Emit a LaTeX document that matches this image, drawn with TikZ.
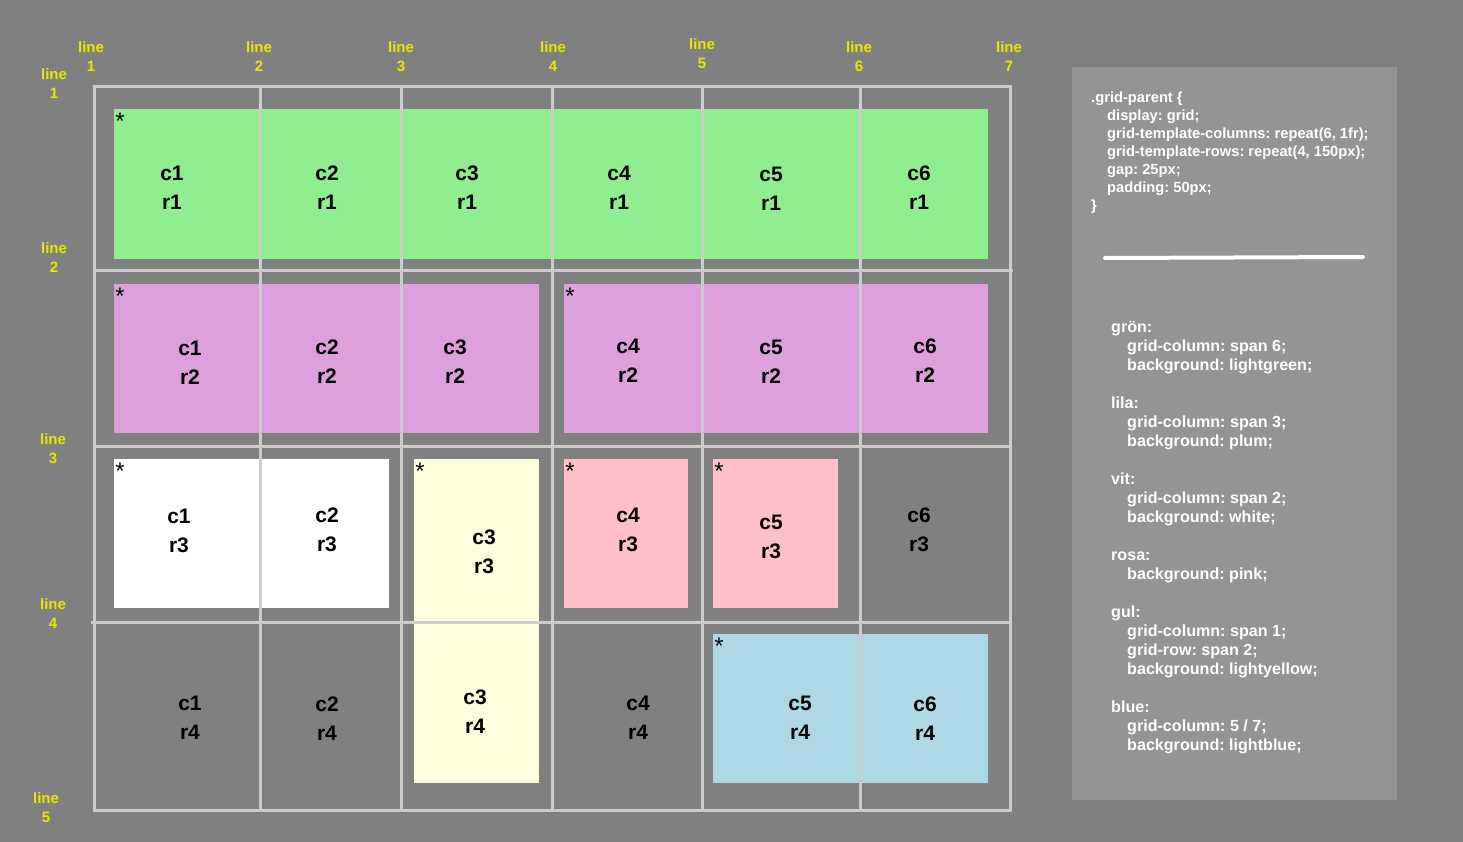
\documentclass[tikz,border=0pt]{standalone}
\usepackage{fontspec}
\setmainfont{Liberation Sans}
\usepackage{tikz}
\usetikzlibrary{positioning}
\frenchspacing

\definecolor{bggray}{HTML}{808080}
\definecolor{panelgray}{HTML}{949494}
\definecolor{gridline}{HTML}{CCCCCC}
\definecolor{labelyellow}{HTML}{E8E800}
\definecolor{cssgreen}{HTML}{90EE90}
\definecolor{cssplum}{HTML}{DDA0DD}
\definecolor{cssyellow}{HTML}{FFFFE0}
\definecolor{csspink}{HTML}{FFC0CB}
\definecolor{cssblue}{HTML}{ADD8E6}

\begin{document}
\begin{tikzpicture}[x=1pt,y=-1pt]
	\tikzstyle{cell}=[font=\bfseries\fontsize{21}{29}\selectfont,align=center,inner sep=0pt]
	\tikzstyle{star}=[font=\fontsize{24}{24}\selectfont,anchor=north,inner sep=0pt]
	\tikzstyle{linelabel}=[font=\bfseries\fontsize{15}{19}\selectfont,align=center,text=labelyellow,inner sep=0pt]
	\tikzstyle{gridrule}=[draw=gridline,line width=3pt]
	\tikzstyle{code}=[text=white,align=left,anchor=north west,inner sep=0pt]
	\fill[bggray] (0,0) rectangle (1463,842);
	\useasboundingbox (0,0) rectangle (1463,842);
	\fill[panelgray] (1072,67) rectangle (1397,800);
	% grid items
	\fill[cssgreen] (114,109) rectangle (988,259);
	\fill[cssplum] (114,284) rectangle (539,433);
	\fill[cssplum] (564,284) rectangle (988,433);
	\fill[white] (114,459) rectangle (389,608);
	\fill[cssyellow] (414,459) rectangle (539,783);
	\fill[csspink] (564,459) rectangle (688,608);
	\fill[csspink] (713,459) rectangle (838,608);
	\fill[cssblue] (713,634) rectangle (988,783);
	% grid lines
	\draw[gridrule] (94,87) rectangle (1010,810);
	\foreach \x in {260,401,552,702,860}
		\draw[gridrule] (\x,87) -- (\x,810);
	\draw[gridrule] (94,270) -- (1013,270);
	\draw[gridrule] (94,446) -- (1012,446);
	\draw[gridrule] (91,622) -- (1010,622);
	\foreach \x/\y/\n in {91/56.5/1,259/56.5/2,401/56.5/3,553/56.5/4,702/53.5/5,859/56.5/6,1009/56.5/7}
		\node[linelabel] (col\n) at (\x,\y) {line\\\n};
	\foreach \x/\y/\n in {54/83.5/1,54/257.5/2,53/448.5/3,53/613.5/4,46/807.5/5}
		\node[linelabel] (row\n) at (\x,\y) {line\\\n};
	\foreach \x/\y in {120/113,120/288,570/288,120/463,420/463,570/463,719/463,719/638}
		\node[star] at (\x,\y) {*};
	\node[cell] (c1r1) at (172,187.5) {c1\\r1};
	\node[cell] (c2r1) at (327,187.5) {c2\\r1};
	\node[cell] (c3r1) at (467,187.5) {c3\\r1};
	\node[cell] (c4r1) at (619,187.5) {c4\\r1};
	\node[cell] (c5r1) at (771,188.5) {c5\\r1};
	\node[cell] (c6r1) at (919,187.5) {c6\\r1};
	\node[cell] (c1r2) at (190,362.5) {c1\\r2};
	\node[cell] (c2r2) at (327,361.5) {c2\\r2};
	\node[cell] (c3r2) at (455,361.5) {c3\\r2};
	\node[cell] (c4r2) at (628,360.5) {c4\\r2};
	\node[cell] (c5r2) at (771,361.5) {c5\\r2};
	\node[cell] (c6r2) at (925,360.5) {c6\\r2};
	\node[cell] (c1r3) at (179,530.5) {c1\\r3};
	\node[cell] (c2r3) at (327,529.5) {c2\\r3};
	\node[cell] (c3r3) at (484,551.5) {c3\\r3};
	\node[cell] (c4r3) at (628,529.5) {c4\\r3};
	\node[cell] (c5r3) at (771,536.5) {c5\\r3};
	\node[cell] (c6r3) at (919,529.5) {c6\\r3};
	\node[cell] (c1r4) at (190,717.5) {c1\\r4};
	\node[cell] (c2r4) at (327,718.5) {c2\\r4};
	\node[cell] (c3r4) at (475,711.5) {c3\\r4};
	\node[cell] (c4r4) at (638,717.5) {c4\\r4};
	\node[cell] (c5r4) at (800,717.5) {c5\\r4};
	\node[cell] (c6r4) at (925,718.5) {c6\\r4};
	% css
	\node[code,font=\bfseries\fontsize{14.7}{18}\selectfont] (parent) at (1091,91.5) {.grid-parent \{\\
		\hspace*{16pt}display: grid;\\
		\hspace*{16pt}grid-template-columns: repeat(6, 1fr);\\
		\hspace*{16pt}grid-template-rows: repeat(4, 150px);\\
		\hspace*{16pt}gap: 25px;\\
		\hspace*{16pt}padding: 50px;\\
		\}};
	\draw[white,line width=4pt,line cap=round] (1105,258) -- (1363,257);
	\node[code,font=\bfseries\fontsize{16.1}{19}\selectfont] (items) at (1111,321.2) {grön:\\
		\hspace*{16pt}grid-column: span 6;\\
		\hspace*{16pt}background: lightgreen;\\[19pt]
		lila:\\
		\hspace*{16pt}grid-column: span 3;\\
		\hspace*{16pt}background: plum;\\[19pt]
		vit:\\
		\hspace*{16pt}grid-column: span 2;\\
		\hspace*{16pt}background: white;\\[19pt]
		rosa:\\
		\hspace*{16pt}background: pink;\\[19pt]
		gul:\\
		\hspace*{16pt}grid-column: span 1;\\
		\hspace*{16pt}grid-row: span 2;\\
		\hspace*{16pt}background: lightyellow;\\[19pt]
		blue:\\
		\hspace*{16pt}grid-column: 5 / 7;\\
		\hspace*{16pt}background: lightblue;};
\end{tikzpicture}
\end{document}
